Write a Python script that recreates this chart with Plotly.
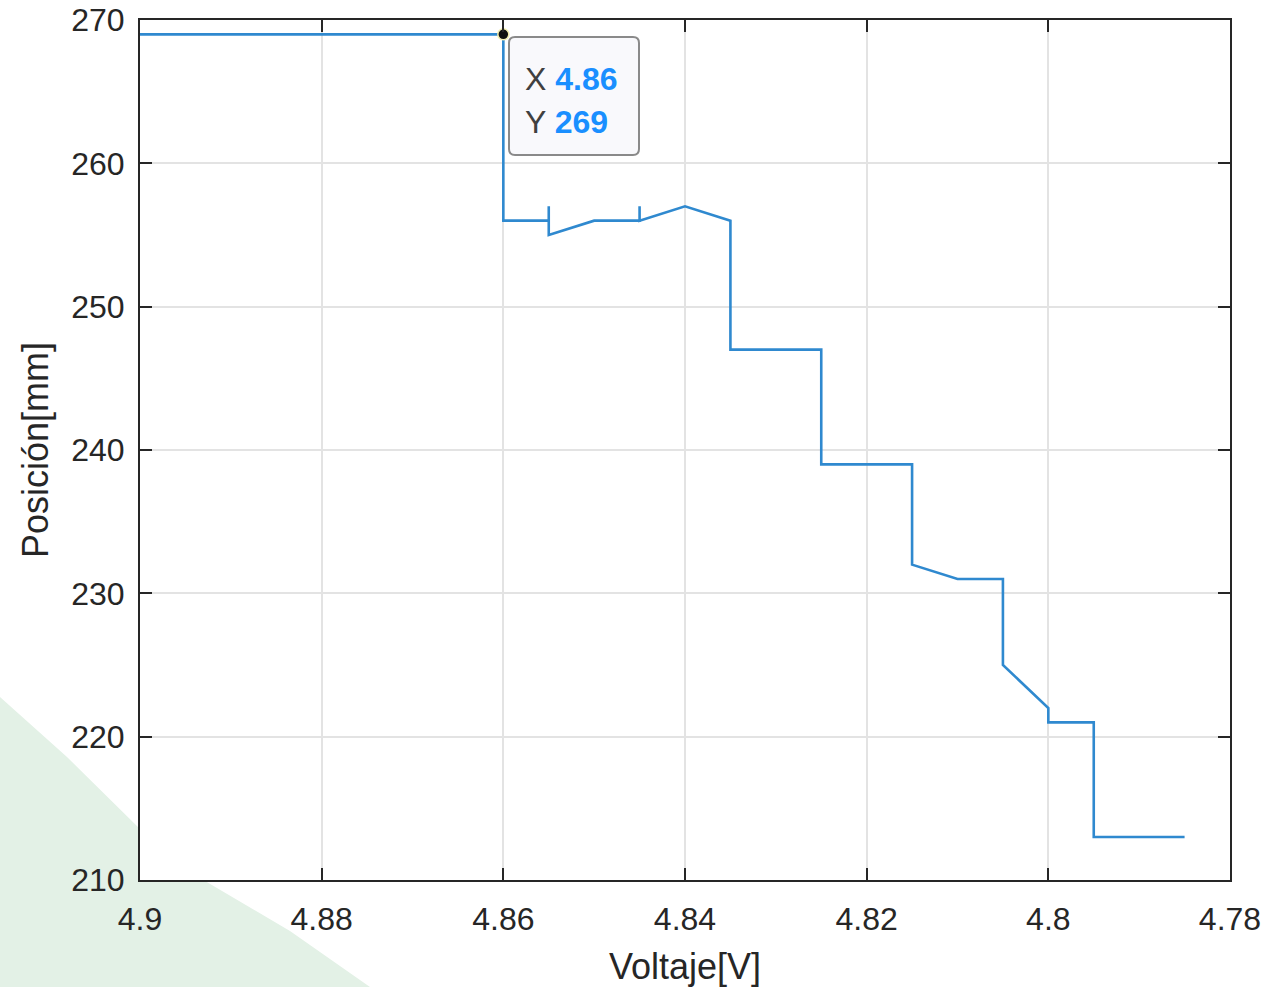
import plotly.graph_objects as go

# Data
voltaje = [4.9, 4.86, 4.86, 4.855, 4.855, 4.855, 4.85, 4.845, 4.845, 4.845,
           4.84, 4.835, 4.835, 4.825, 4.825, 4.815, 4.815, 4.81, 4.805, 4.805,
           4.8, 4.8, 4.795, 4.795, 4.785]
posicion = [269, 269, 256, 256, 257, 255, 256, 256, 257, 256,
            257, 256, 247, 247, 239, 239, 232, 231, 231, 225,
            222, 221, 221, 213, 213]

x_ticks = [4.9, 4.88, 4.86, 4.84, 4.82, 4.8, 4.78]
x_tick_labels = ["4.9", "4.88", "4.86", "4.84", "4.82", "4.8", "4.78"]
y_ticks = [210, 220, 230, 240, 250, 260, 270]
y_tick_labels = ["210", "220", "230", "240", "250", "260", "270"]

tip_x = 4.86
tip_y = 269

W, H = 1271, 987
# plot area in page pixels
L, R, T, B = 140, 1230, 20, 880

def px(xp):
    return (xp - L) / (R - L)

def py(yp):
    return (B - yp) / (B - T)

FONT = "Liberation Sans, Arial, Helvetica, sans-serif"
AX = "#262626"

fig = go.Figure()
fig.add_trace(go.Scatter(x=voltaje, y=posicion, mode="lines",
                         line=dict(color="#2f89cf", width=2.6),
                         showlegend=False, hoverinfo="skip"))
fig.add_trace(go.Scatter(x=[tip_x], y=[tip_y], mode="markers",
                         marker=dict(color="#111111", size=11,
                                     line=dict(color="#f3efb0", width=1.5)),
                         showlegend=False, hoverinfo="skip"))

# green decorative background in bottom-left corner
gpts = [(0, 697), (67, 757), (140, 829), (200, 878), (290, 931), (370, 987), (0, 987)]
gpath = "M " + " L ".join(f"{px(a):.5f},{py(b):.5f}" for a, b in gpts) + " Z"
shapes = [
    dict(type="path", path=gpath, xref="paper", yref="paper",
         fillcolor="#e3f1e6", line=dict(width=0), layer="below"),
    dict(type="rect", x0=0, x1=1, y0=0, y1=1, xref="paper", yref="paper",
         fillcolor="white", line=dict(width=0), layer="below"),
]

# datatip box with rounded corners
bx0, bx1, by0, by1, r = 509, 639, 37, 155, 6
def P(a, b):
    return f"{px(a):.5f},{py(b):.5f}"
box = (f"M {P(bx0 + r, by0)} L {P(bx1 - r, by0)} Q {P(bx1, by0)} {P(bx1, by0 + r)} "
       f"L {P(bx1, by1 - r)} Q {P(bx1, by1)} {P(bx1 - r, by1)} "
       f"L {P(bx0 + r, by1)} Q {P(bx0, by1)} {P(bx0, by1 - r)} "
       f"L {P(bx0, by0 + r)} Q {P(bx0, by0)} {P(bx0 + r, by0)} Z")
shapes.append(dict(type="path", path=box, xref="paper", yref="paper",
                   fillcolor="#f9f9fc", line=dict(color="#8a8a8a", width=2),
                   layer="above"))

annotations = [
    dict(xref="paper", yref="paper", x=px(523), y=py(79), xanchor="left", yanchor="middle",
         showarrow=False, font=dict(family=FONT, size=32, color="#404040"),
         text=f"X <b><span style='color:#1a8fff'>{tip_x:g}</span></b>"),
    dict(xref="paper", yref="paper", x=px(523), y=py(122), xanchor="left", yanchor="middle",
         showarrow=False, font=dict(family=FONT, size=32, color="#404040"),
         text=f"Y <b><span style='color:#1a8fff'>{tip_y:g}</span></b>"),
]

axis_common = dict(showline=True, linecolor=AX, linewidth=2, mirror="ticks",
                   ticks="inside", ticklen=12, tickwidth=2, tickcolor=AX,
                   showgrid=True, gridcolor="#e3e3e3", gridwidth=2, zeroline=False,
                   automargin=False, ticklabeloverflow="allow",
                   tickfont=dict(family=FONT, size=32, color=AX))

fig.update_layout(
    template="none",
    width=W, height=H, autosize=False,
    margin=dict(l=L, r=W - R, t=T, b=H - B, pad=0),
    paper_bgcolor="white", plot_bgcolor="white",
    shapes=shapes, annotations=annotations,
    xaxis=dict(range=[4.9, 4.78], tickvals=x_ticks, ticktext=x_tick_labels,
               title=dict(text="Voltaje[V]", font=dict(family=FONT, size=36, color=AX), standoff=18),
               ticklabelstandoff=10, **axis_common),
    yaxis=dict(range=[210, 270], tickvals=y_ticks, ticktext=y_tick_labels,
               title=dict(text="Posición[mm]", font=dict(family=FONT, size=36, color=AX), standoff=12),
               ticklabelstandoff=7, **axis_common),
)

fig.write_html("out.html", config={"displayModeBar": False},
               post_script="document.body.style.margin='0px';document.body.style.overflow='hidden';")
